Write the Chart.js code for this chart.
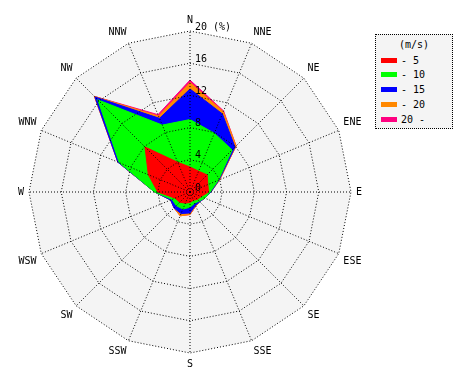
<!DOCTYPE html>
<html>
<head>
<meta charset="utf-8">
<script src="https://cdn.jsdelivr.net/npm/chart.js@4/dist/chart.umd.min.js"></script>
<style>
  body { margin: 0; background: #fff; width: 470px; height: 380px; overflow: hidden; position: relative; font-family: "DejaVu Sans Mono", monospace; }
  #wrap { position: absolute; left: 0; top: 0; width: 380px; height: 380px; }
  #legend { position: absolute; left: 375px; top: 34px; width: 76px; height: 93px; border: 1px dotted #000; background: #f4f4f4; font-size: 10px; color: #000; }
  #legend .title { position: absolute; left: 0; width: 100%; top: 4px; text-align: center; }
  #legend .row { position: absolute; left: 5px; height: 12px; line-height: 12px; white-space: pre; }
  #legend .sw { display: inline-block; width: 16px; height: 5px; vertical-align: middle; margin-right: 4px; margin-top: -2px; }
</style>
</head>
<body>
<div id="wrap"><canvas id="rose"></canvas></div>
<div id="legend"><div class="title">(m/s)</div></div>
<script>
const directions = ['N', 'NNE', 'NE', 'ENE', 'E', 'ESE', 'SE', 'SSE', 'S', 'SSW', 'SW', 'WSW', 'W', 'WNW', 'NW', 'NNW'];

// cumulative frequency (%) up to each wind speed class
const upTo5  = [3.1, 2.8, 3.0, 2.4, 2.3, 1.5, 1.3, 1.1, 1.3, 1.5, 1.8, 2.0, 4.0, 5.6, 7.9, 4.0];
const upTo10 = [9.0, 7.9, 7.4, 3.8, 2.5, 2.0, 1.6, 1.5, 1.9, 2.3, 2.4, 2.4, 4.4, 9.5, 16.2, 9.0];
const upTo15 = [12.8, 10.5, 7.9, 3.9, 2.6, 2.0, 1.7, 1.8, 2.6, 2.9, 2.8, 2.6, 4.4, 9.7, 16.7, 9.9];
const upTo20 = [13.6, 10.8, 8.1, 4.0, 2.6, 2.0, 1.7, 1.9, 2.8, 3.2, 2.8, 2.6, 4.4, 9.7, 16.8, 10.2];
const allSpeeds = [13.9, 10.9, 8.1, 4.0, 2.6, 2.0, 1.7, 1.9, 2.8, 3.2, 2.8, 2.6, 4.4, 9.7, 16.8, 10.4];

const bandLabels = ['- 5', '- 10', '- 15', '- 20', '20 -'];
const bandColors = ['#ff0000', '#00ff00', '#0000ff', '#ff8800', '#ff0080'];
const bandValues = [upTo5, upTo10, upTo15, upTo20, allSpeeds];

const tickValues = [0, 4, 8, 12, 16, 20];
const tickLabels = ['0', '4', '8', '12', '16', '20 (%)'];

const monoFont = '"DejaVu Sans Mono", monospace';

// light grey inside the outer ring, under the data
const plotBackground = {
    id: 'plotBackground',
    beforeDatasetsDraw(chart) {
        const r = chart.scales.r;
        const ctx = chart.ctx;
        const dist = r.getDistanceFromCenterForValue(r.max);
        ctx.save();
        ctx.beginPath();
        directions.forEach((d, i) => {
            const p = r.getPointPosition(i, dist);
            if (i === 0) ctx.moveTo(p.x, p.y); else ctx.lineTo(p.x, p.y);
        });
        ctx.closePath();
        ctx.fillStyle = '#f4f4f4';
        ctx.fill();
        ctx.restore();
    }
};

// percent labels along the north axis, drawn on top of everything
const northTicks = {
    id: 'northTicks',
    afterDraw(chart) {
        const r = chart.scales.r;
        const ctx = chart.ctx;
        ctx.save();
        ctx.font = '10px ' + monoFont;
        ctx.fillStyle = '#000';
        ctx.textAlign = 'left';
        ctx.textBaseline = 'bottom';
        tickValues.forEach((v, i) => {
            const p = r.getPointPosition(0, r.getDistanceFromCenterForValue(v));
            ctx.fillText(tickLabels[i], p.x + 5, p.y + 1);
        });
        ctx.restore();
    }
};

const ctx = document.getElementById('rose').getContext('2d');
new Chart(ctx, {
    type: 'radar',
    data: {
        labels: directions,
        datasets: bandValues.map((vals, i) => ({
            label: bandLabels[i],
            data: vals,
            backgroundColor: bandColors[i],
            borderColor: bandColors[i],
            borderWidth: 1,
            fill: 'origin',
            pointRadius: 0
        }))
    },
    options: {
        responsive: true,
        maintainAspectRatio: false,
        animation: false,
        layout: { padding: { top: 14, bottom: 10, left: 12, right: 12 } },
        elements: { line: { tension: 0 } },
        plugins: { legend: { display: false }, tooltip: { enabled: false } },
        scales: {
            r: {
                min: 0,
                max: 20,
                startAngle: 0,
                ticks: { display: false, stepSize: 4 },
                grid: { circular: false, color: '#000', lineWidth: 1, z: 1 },
                border: { dash: [1, 2] },
                angleLines: { color: '#000', lineWidth: 1, borderDash: [1, 2] },
                pointLabels: { color: '#000', padding: 5, font: { family: monoFont, size: 10 } }
            }
        }
    },
    plugins: [plotBackground, northTicks]
});

const legend = document.getElementById('legend');
const rowTops = [20, 34, 49, 64, 79];
bandLabels.forEach((lab, i) => {
    const row = document.createElement('div');
    row.className = 'row';
    row.style.top = rowTops[i] + 'px';
    row.innerHTML = '<span class="sw" style="background:' + bandColors[i] + '"></span>' + lab;
    legend.appendChild(row);
});
</script>
</body>
</html>
